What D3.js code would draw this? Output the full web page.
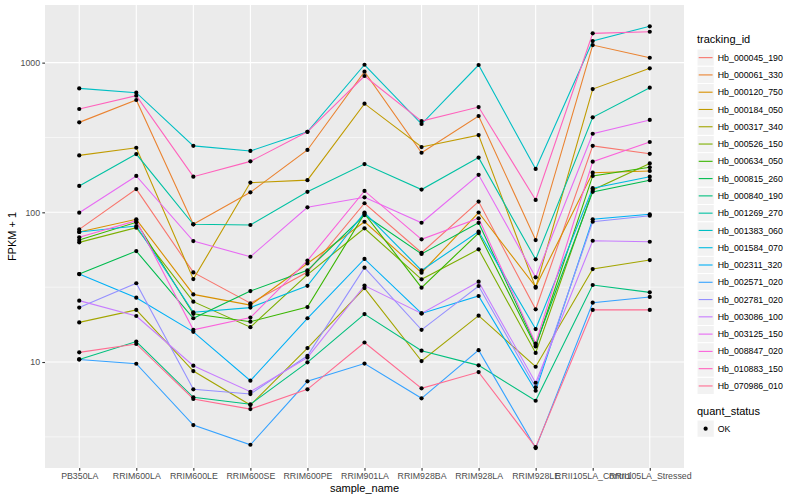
<!DOCTYPE html>
<html>
<head>
<meta charset="utf-8">
<script src="https://cdn.jsdelivr.net/npm/d3@7"></script>
<style>
  body { margin: 0; background: #fff; }
  text { font-family: "Liberation Sans", Arial, sans-serif; }
</style>
</head>
<body>
<svg id="chart"></svg>
<script>
// samples on the x axis
const samples = ['PB350LA', 'RRIM600LA', 'RRIM600LE', 'RRIM600SE', 'RRIM600PE', 'RRIM901LA',
  'RRIM928BA', 'RRIM928LA', 'RRIM928LE', 'RRII105LA_Control', 'RRII105LA_Stressed']

// FPKM + 1 per gene, one value per sample
const hb_000045_190 = [76.9, 143, 39.7, 24.7, 39.9, 115, 53.7, 118, 22.5, 278, 246]
const hb_000061_330 = [399, 563, 83.2, 136, 261, 870, 250, 440, 65.3, 1311, 1078]
const hb_000120_750 = [73.9, 89.8, 28.3, 24.0, 45.5, 86.5, 39.5, 99.7, 31.8, 184, 189]
const hb_000184_050 = [240, 270, 35.8, 158, 164, 532, 273, 328, 31.4, 666, 916]
const hb_000317_340 = [18.4, 22.3, 8.7, 5.16, 12.4, 31.2, 10.15, 20.4, 9.3, 41.8, 48.0]
const hb_000526_150 = [63.0, 78.9, 25.3, 17.1, 38.4, 78.2, 35.7, 56.6, 11.5, 141, 212]
const hb_000634_050 = [65.3, 85.8, 21.0, 18.6, 23.3, 97.9, 31.4, 72.7, 12.7, 175, 200]
const hb_000815_260 = [38.7, 55.1, 19.6, 29.8, 41.0, 95.9, 52.7, 85.1, 13.0, 137, 164]
const hb_000840_190 = [10.4, 13.7, 5.81, 5.22, 9.95, 20.9, 11.9, 9.5, 5.51, 32.7, 29.2]
const hb_001269_270 = [150, 245, 83.2, 82.3, 137, 210, 142, 232, 48.5, 431, 680]
const hb_001383_060 = [673, 630, 278, 257, 345, 968, 389, 964, 195, 1394, 1748]
const hb_001584_070 = [73.9, 81.0, 21.5, 23.1, 32.3, 99.7, 40.9, 74.4, 16.6, 145, 173]
const hb_002311_320 = [38.7, 26.9, 15.9, 7.5, 19.6, 48.8, 21.1, 27.6, 6.43, 89.8, 97.0]
const hb_002571_020 = [10.4, 9.74, 3.79, 2.80, 7.43, 9.77, 5.72, 12.0, 2.66, 24.9, 27.2]
const hb_002781_020 = [23.1, 33.6, 6.57, 6.11, 11.0, 42.7, 16.4, 32.2, 6.78, 86.5, 94.9]
const hb_003086_100 = [25.7, 20.3, 9.45, 6.33, 10.7, 32.4, 21.1, 34.4, 7.27, 64.6, 63.6]
const hb_003125_150 = [99.4, 175, 64.3, 50.5, 108, 126, 85.2, 178, 36.8, 335, 414]
const hb_008847_020 = [68.1, 87.9, 16.4, 19.8, 47.6, 139, 66.0, 91.2, 13.3, 218, 295]
const hb_010883_150 = [490, 601, 173, 219, 345, 814, 407, 505, 121, 1569, 1608]
const hb_070986_010 = [11.6, 13.2, 5.66, 4.85, 6.57, 13.5, 6.67, 8.57, 2.70, 22.3, 22.3]

const trackingIds = ['Hb_000045_190', 'Hb_000061_330', 'Hb_000120_750', 'Hb_000184_050', 'Hb_000317_340',
  'Hb_000526_150', 'Hb_000634_050', 'Hb_000815_260', 'Hb_000840_190', 'Hb_001269_270',
  'Hb_001383_060', 'Hb_001584_070', 'Hb_002311_320', 'Hb_002571_020', 'Hb_002781_020',
  'Hb_003086_100', 'Hb_003125_150', 'Hb_008847_020', 'Hb_010883_150', 'Hb_070986_010']
const seriesValues = [hb_000045_190, hb_000061_330, hb_000120_750, hb_000184_050, hb_000317_340,
  hb_000526_150, hb_000634_050, hb_000815_260, hb_000840_190, hb_001269_270,
  hb_001383_060, hb_001584_070, hb_002311_320, hb_002571_020, hb_002781_020,
  hb_003086_100, hb_003125_150, hb_008847_020, hb_010883_150, hb_070986_010]
const quantStatus = ['OK']
const yTicks = [10, 100, 1000]
const yMinor = [Math.pow(10, 0.5), Math.pow(10, 1.5), Math.pow(10, 2.5)]

// ggplot default hue palette, 20 levels
const huePalette = ['#F8766D', '#EA8331', '#D89000', '#C09B00', '#A3A500', '#7CAE00', '#39B600', '#00BB4E',
  '#00BF7D', '#00C1A3', '#00BFC4', '#00BAE0', '#00B0F6', '#35A2FF', '#9590FF', '#C77CFF',
  '#E76BF3', '#FA62DB', '#FF62BC', '#FF6C91']

const width = 800, height = 500
const panel = { left: 45, right: 684, top: 5, bottom: 468 }

const series = trackingIds.map((id, i) => ({
  id,
  points: samples.map((s, j) => ({ sample: s, value: seriesValues[i][j] }))
}))

const svg = d3.select('#chart')
  .attr('width', width)
  .attr('height', height)

const x = d3.scalePoint()
  .domain(samples)
  .range([panel.left, panel.right])
  .padding(0.6)

const y = d3.scaleLog()
  .domain([Math.pow(10, 0.292), Math.pow(10, 3.385)])
  .range([panel.bottom, panel.top])

const color = d3.scaleOrdinal()
  .domain(trackingIds)
  .range(huePalette)

// panel background
svg.append('rect')
  .attr('x', panel.left)
  .attr('y', panel.top)
  .attr('width', panel.right - panel.left)
  .attr('height', panel.bottom - panel.top)
  .attr('fill', '#EBEBEB')

// minor grid
svg.append('g').selectAll('line')
  .data(yMinor)
  .join('line')
  .attr('x1', panel.left).attr('x2', panel.right)
  .attr('y1', d => y(d)).attr('y2', d => y(d))
  .attr('stroke', '#fff').attr('stroke-width', 0.55)

// major grid
svg.append('g').selectAll('line')
  .data(yTicks)
  .join('line')
  .attr('x1', panel.left).attr('x2', panel.right)
  .attr('y1', d => y(d)).attr('y2', d => y(d))
  .attr('stroke', '#fff').attr('stroke-width', 1.1)

svg.append('g').selectAll('line')
  .data(samples)
  .join('line')
  .attr('x1', d => x(d)).attr('x2', d => x(d))
  .attr('y1', panel.top).attr('y2', panel.bottom)
  .attr('stroke', '#fff').attr('stroke-width', 1.1)

// lines
const line = d3.line()
  .x(d => x(d.sample))
  .y(d => y(d.value))

svg.append('g').selectAll('path')
  .data(series)
  .join('path')
  .attr('d', d => line(d.points))
  .attr('fill', 'none')
  .attr('stroke', d => color(d.id))
  .attr('stroke-width', 1.1)

// points
svg.append('g').selectAll('circle')
  .data(series.flatMap(d => d.points))
  .join('circle')
  .attr('cx', d => x(d.sample))
  .attr('cy', d => y(d.value))
  .attr('r', 2.1)
  .attr('fill', '#000')

// axes
const yAxis = d3.axisLeft(y)
  .tickValues(yTicks)
  .tickFormat(d3.format('d'))
  .tickSize(2.7)
  .tickPadding(2.2)

const xAxis = d3.axisBottom(x)
  .tickSize(2.7)
  .tickPadding(2.2)

function styleAxis(g) {
  g.select('.domain').remove()
  g.selectAll('.tick line').attr('stroke', '#333333').attr('stroke-width', 1.1)
  g.selectAll('.tick text')
    .attr('fill', '#4D4D4D')
    .style('font-size', '8.8px')
    .style('font-family', '"Liberation Sans", Arial, sans-serif')
}

svg.append('g')
  .attr('transform', `translate(${panel.left},0)`)
  .call(yAxis)
  .call(styleAxis)

svg.append('g')
  .attr('transform', `translate(0,${panel.bottom})`)
  .call(xAxis)
  .call(styleAxis)

// axis titles
svg.append('text')
  .attr('x', (panel.left + panel.right) / 2)
  .attr('y', 492)
  .attr('text-anchor', 'middle')
  .style('font-size', '11px')
  .text('sample_name')

svg.append('text')
  .attr('transform', `translate(16,${(panel.top + panel.bottom) / 2}) rotate(-90)`)
  .attr('text-anchor', 'middle')
  .style('font-size', '11px')
  .text('FPKM + 1')

// legend: tracking_id
const keySize = 17.28
const legendX = 697
const legend = svg.append('g')

legend.append('text')
  .attr('x', legendX)
  .attr('y', 43)
  .style('font-size', '11px')
  .text('tracking_id')

const keys = legend.selectAll('g.key')
  .data(trackingIds)
  .join('g')
  .attr('class', 'key')
  .attr('transform', (d, i) => `translate(${legendX},${49 + i * keySize})`)

keys.append('rect')
  .attr('width', keySize)
  .attr('height', keySize)
  .attr('fill', '#F2F2F2')
  .attr('stroke', '#fff')
  .attr('stroke-width', 1)

keys.append('line')
  .attr('x1', 1.7).attr('x2', keySize - 1.7)
  .attr('y1', keySize / 2).attr('y2', keySize / 2)
  .attr('stroke', d => color(d))
  .attr('stroke-width', 1.1)

keys.append('text')
  .attr('x', keySize + 3.5)
  .attr('y', keySize / 2)
  .attr('dy', '0.35em')
  .style('font-size', '8.8px')
  .text(d => d)

// legend: quant_status
const legend2 = svg.append('g')

legend2.append('text')
  .attr('x', legendX)
  .attr('y', 415)
  .style('font-size', '11px')
  .text('quant_status')

const keys2 = legend2.selectAll('g.key2')
  .data(quantStatus)
  .join('g')
  .attr('class', 'key2')
  .attr('transform', (d, i) => `translate(${legendX},${420 + i * keySize})`)

keys2.append('rect')
  .attr('width', keySize)
  .attr('height', keySize)
  .attr('fill', '#F2F2F2')
  .attr('stroke', '#fff')

keys2.append('circle')
  .attr('cx', keySize / 2)
  .attr('cy', keySize / 2)
  .attr('r', 2.1)
  .attr('fill', '#000')

keys2.append('text')
  .attr('x', keySize + 3.5)
  .attr('y', keySize / 2)
  .attr('dy', '0.35em')
  .style('font-size', '8.8px')
  .text(d => d)
</script>
</body>
</html>
